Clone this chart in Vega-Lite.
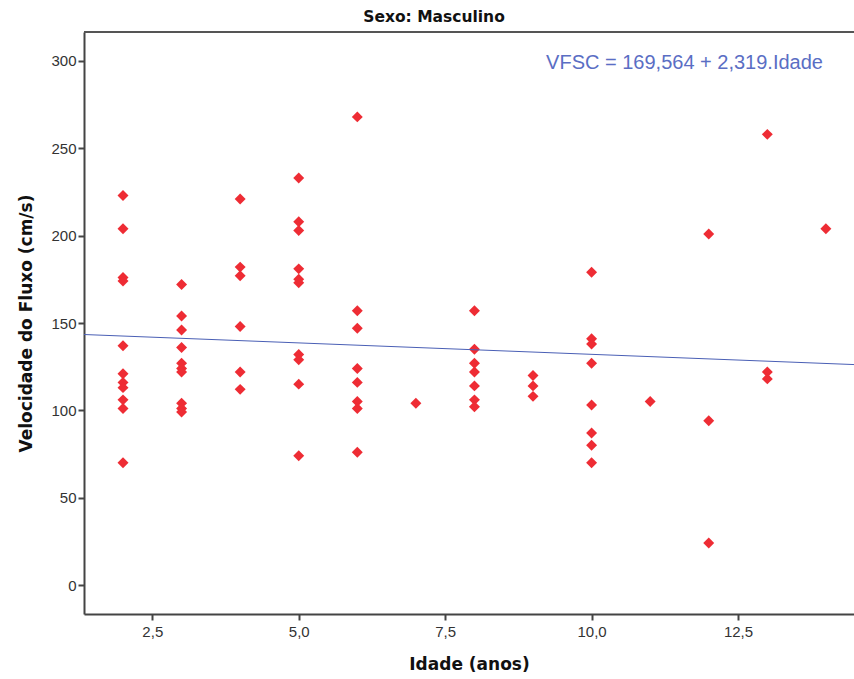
{
  "$schema": "https://vega.github.io/schema/vega-lite/v6.json",
  "width": 770,
  "height": 582,
  "autosize": "none",
  "padding": {"left": 84, "top": 32, "right": 0, "bottom": 65},
  "background": "white",
  "title": {"text": "Sexo: Masculino", "font": "DejaVu Sans", "fontSize": 15.5, "fontWeight": "bold", "color": "#111111", "anchor": "middle", "offset": 6, "dx": -35},
  "config": {
    "view": {"stroke": null},
    "axis": {
      "grid": false,
      "domainColor": "#444444",
      "domainWidth": 2,
      "tickColor": "#444444",
      "tickWidth": 2,
      "tickSize": 6,
      "labelFont": "Liberation Sans",
      "labelFontSize": 15,
      "labelColor": "#333333",
      "titleFont": "DejaVu Sans",
      "titleFontSize": 17,
      "titleFontWeight": "bold",
      "titleColor": "#111111"
    }
  },
  "layer": [
    {
      "data": {"values": [{"top": 316.6}]},
      "mark": {"type": "rule", "color": "#555555", "strokeWidth": 2},
      "encoding": {"y": {"field": "top", "type": "quantitative", "scale": {"domain": [-16.6, 316.6], "nice": false, "zero": false}}}
    },
    {
      "data": {"values": [
        {"idade": 2, "vfsc": 223}, {"idade": 2, "vfsc": 204}, {"idade": 2, "vfsc": 176}, {"idade": 2, "vfsc": 174}, {"idade": 2, "vfsc": 137}, {"idade": 2, "vfsc": 121}, {"idade": 2, "vfsc": 116}, {"idade": 2, "vfsc": 113}, {"idade": 2, "vfsc": 106}, {"idade": 2, "vfsc": 101}, {"idade": 2, "vfsc": 70},
        {"idade": 3, "vfsc": 172}, {"idade": 3, "vfsc": 154}, {"idade": 3, "vfsc": 146}, {"idade": 3, "vfsc": 136}, {"idade": 3, "vfsc": 127}, {"idade": 3, "vfsc": 124}, {"idade": 3, "vfsc": 122}, {"idade": 3, "vfsc": 104}, {"idade": 3, "vfsc": 101}, {"idade": 3, "vfsc": 99},
        {"idade": 4, "vfsc": 221}, {"idade": 4, "vfsc": 182}, {"idade": 4, "vfsc": 177}, {"idade": 4, "vfsc": 148}, {"idade": 4, "vfsc": 122}, {"idade": 4, "vfsc": 112},
        {"idade": 5, "vfsc": 233}, {"idade": 5, "vfsc": 208}, {"idade": 5, "vfsc": 203}, {"idade": 5, "vfsc": 181}, {"idade": 5, "vfsc": 175}, {"idade": 5, "vfsc": 173}, {"idade": 5, "vfsc": 132}, {"idade": 5, "vfsc": 129}, {"idade": 5, "vfsc": 115}, {"idade": 5, "vfsc": 74},
        {"idade": 6, "vfsc": 268}, {"idade": 6, "vfsc": 157}, {"idade": 6, "vfsc": 147}, {"idade": 6, "vfsc": 124}, {"idade": 6, "vfsc": 116}, {"idade": 6, "vfsc": 105}, {"idade": 6, "vfsc": 101}, {"idade": 6, "vfsc": 76},
        {"idade": 7, "vfsc": 104},
        {"idade": 8, "vfsc": 157}, {"idade": 8, "vfsc": 135}, {"idade": 8, "vfsc": 127}, {"idade": 8, "vfsc": 122}, {"idade": 8, "vfsc": 114}, {"idade": 8, "vfsc": 106}, {"idade": 8, "vfsc": 102},
        {"idade": 9, "vfsc": 120}, {"idade": 9, "vfsc": 114}, {"idade": 9, "vfsc": 108},
        {"idade": 10, "vfsc": 179}, {"idade": 10, "vfsc": 141}, {"idade": 10, "vfsc": 138}, {"idade": 10, "vfsc": 127}, {"idade": 10, "vfsc": 103}, {"idade": 10, "vfsc": 87}, {"idade": 10, "vfsc": 80}, {"idade": 10, "vfsc": 70},
        {"idade": 11, "vfsc": 105},
        {"idade": 12, "vfsc": 201}, {"idade": 12, "vfsc": 94}, {"idade": 12, "vfsc": 24},
        {"idade": 13, "vfsc": 258}, {"idade": 13, "vfsc": 122}, {"idade": 13, "vfsc": 118},
        {"idade": 14, "vfsc": 204}
      ]},
      "mark": {"type": "point", "shape": "diamond", "filled": true, "size": 120, "color": "#ee2c34", "opacity": 1},
      "encoding": {
        "x": {"field": "idade", "type": "quantitative", "title": "Idade (anos)",
              "scale": {"domain": [1.334, 14.48], "nice": false, "zero": false},
              "axis": {"values": [2.5, 5, 7.5, 10, 12.5], "format": ".1f", "labelExpr": "replace(datum.label, '.', ',')", "labelPadding": 4, "titlePadding": 17}},
        "y": {"field": "vfsc", "type": "quantitative", "title": "Velocidade do Fluxo (cm/s)",
              "scale": {"domain": [-16.6, 316.6], "nice": false, "zero": false},
              "axis": {"values": [0, 50, 100, 150, 200, 250, 300], "labelPadding": 2, "titlePadding": 15}}
      }
    },
    {
      "data": {"values": [{"idade": 1.334, "vfsc": 143.4}, {"idade": 14.48, "vfsc": 126.2}]},
      "mark": {"type": "line", "color": "#4a5fb5", "strokeWidth": 1},
      "encoding": {
        "x": {"field": "idade", "type": "quantitative"},
        "y": {"field": "vfsc", "type": "quantitative"}
      }
    },
    {
      "data": {"values": [{"idade": 13.95, "vfsc": 299, "label": "VFSC = 169,564 + 2,319.Idade"}]},
      "mark": {"type": "text", "align": "right", "baseline": "middle", "font": "Liberation Sans", "fontSize": 20, "color": "#5a6ec4"},
      "encoding": {
        "x": {"field": "idade", "type": "quantitative"},
        "y": {"field": "vfsc", "type": "quantitative"},
        "text": {"field": "label", "type": "nominal"}
      }
    }
  ]
}
